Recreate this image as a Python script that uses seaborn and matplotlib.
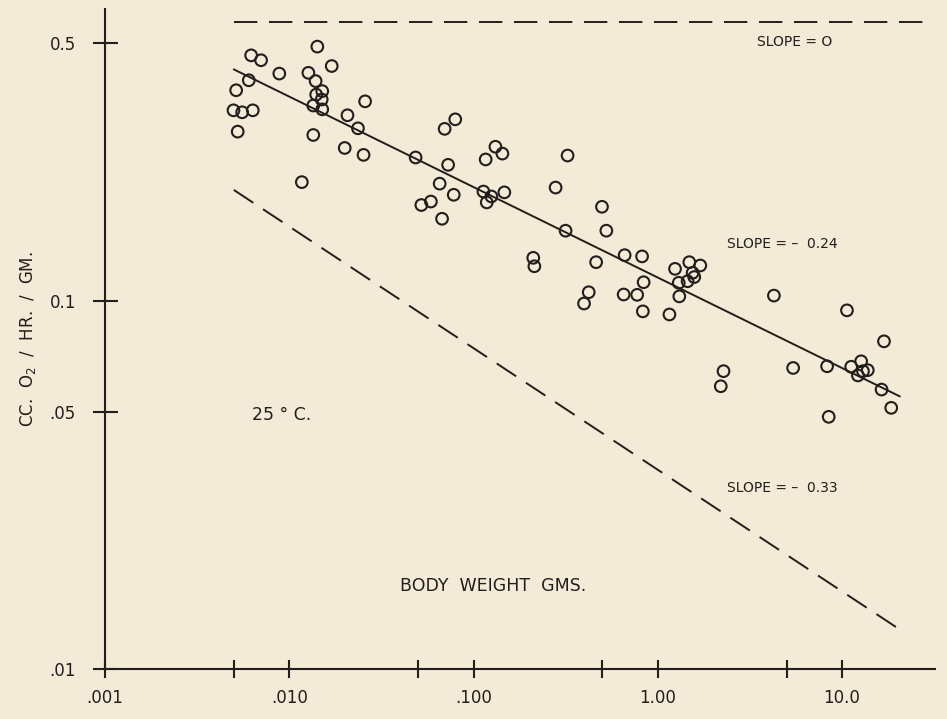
import matplotlib
matplotlib.use("Agg")
import matplotlib.pyplot as plt
import seaborn as sns
import pandas as pd

# body weight (gms) and O2 uptake (cc / hr / gm)
weight = [0.0142, 0.00621, 0.00703, 0.00883, 0.00603, 0.0127, 0.0139, 0.0170,
          0.00515, 0.0151, 0.0140, 0.0150, 0.0135, 0.0151, 0.00498, 0.00555,
          0.00634, 0.0258, 0.0207, 0.0236, 0.00525, 0.0135, 0.0200, 0.0253,
          0.0117, 0.0796, 0.0697, 0.0485, 0.0728, 0.0655, 0.0781, 0.0521,
          0.0587, 0.0675, 0.1315, 0.1435, 0.1164, 0.1132, 0.125, 0.118,
          0.147, 0.324, 0.279, 0.316, 0.498, 0.526, 0.211, 0.214,
          0.463, 0.422, 0.398, 0.661, 0.653, 0.822, 0.838, 0.773,
          0.830, 1.157, 1.241, 1.483, 1.702, 1.546, 1.578, 1.452,
          1.30, 1.309, 2.275, 2.198, 4.27, 5.43, 10.64, 16.9,
          8.30, 11.22, 12.7, 13.8, 13.0, 12.2, 16.4, 18.5, 8.47]
rate = [0.490, 0.464, 0.450, 0.414, 0.397, 0.416, 0.395, 0.434,
        0.373, 0.371, 0.363, 0.352, 0.339, 0.331, 0.329, 0.325,
        0.329, 0.348, 0.319, 0.294, 0.288, 0.282, 0.260, 0.249,
        0.210, 0.311, 0.293, 0.245, 0.234, 0.208, 0.194, 0.182,
        0.186, 0.167, 0.262, 0.251, 0.242, 0.198, 0.192, 0.185,
        0.197, 0.248, 0.203, 0.155, 0.180, 0.155, 0.1308, 0.1241,
        0.1273, 0.1055, 0.0983, 0.133, 0.104, 0.132, 0.1123, 0.1038,
        0.0936, 0.0918, 0.1221, 0.1273, 0.1247, 0.1191, 0.116, 0.113,
        0.1119, 0.1028, 0.0644, 0.0586, 0.1033, 0.0657, 0.0942, 0.0776,
        0.0664, 0.0662, 0.0685, 0.0648, 0.0644, 0.0627, 0.0574, 0.0512, 0.0484]

# reference lines
fit_x = [0.005, 20.6]
fit_y = [0.425, 0.055]
flat_x = [0.005, 30.0]
flat_y = [0.572, 0.572]
steep_x = [0.005, 20.6]
steep_y = [0.200, 0.0128]

xticks = [0.001, 0.005, 0.01, 0.05, 0.1, 0.5, 1, 5, 10]
xticklabels = ['.001', '', '.010', '', '.100', '', '1.00', '', '10.0']
yticks = [0.01, 0.05, 0.1, 0.5]
yticklabels = ['.01', '.05', '0.1', '0.5']

ink = '#221e1b'
paper = '#f3ead7'

sns.set_style("ticks")
plt.rcParams['font.family'] = ['DejaVu Sans']

fig = plt.figure(figsize=(9.47, 7.19), dpi=100, facecolor=paper)
ax = fig.add_axes([0.1109, 0.0695, 0.8765, 0.918])
ax.set_facecolor(paper)

df = pd.DataFrame({'weight': weight, 'rate': rate})
sns.scatterplot(data=df, x='weight', y='rate', ax=ax, marker='o', s=70,
                facecolors='none', edgecolor=ink, linewidth=1.5, zorder=3)

sns.lineplot(x=fit_x, y=fit_y, ax=ax, color=ink, linewidth=1.4)
sns.lineplot(x=flat_x, y=flat_y, ax=ax, color=ink, linewidth=1.4,
             linestyle=(0, (12, 6)))
sns.lineplot(x=steep_x, y=steep_y, ax=ax, color=ink, linewidth=1.4,
             linestyle=(0, (12, 6)))

ax.set_xscale('log')
ax.set_yscale('log')
ax.set_xlim(0.001, 32)
ax.set_ylim(0.01, 0.62)
ax.minorticks_off()
ax.set_xticks(xticks)
ax.set_xticklabels(xticklabels)
ax.set_yticks(yticks)
ax.set_yticklabels(yticklabels)

sns.despine(ax=ax)
for side in ['left', 'bottom']:
    ax.spines[side].set_color(ink)
    ax.spines[side].set_linewidth(1.5)
ax.tick_params(axis='y', direction='inout', length=18, width=1.5, color=ink,
               labelcolor=ink, labelsize=12, pad=12)
ax.tick_params(axis='x', direction='inout', length=13, width=1.5, color=ink,
               labelcolor=ink, labelsize=12, pad=8)

ax.set_xlabel('')
ax.set_ylabel('CC.  O$_2$  /  HR.  /  GM.', fontsize=12, color=ink, labelpad=8)

ax.text(5.5, 0.503, 'SLOPE = O', fontsize=10, color=ink, ha='center', va='center')
ax.text(4.74, 0.143, 'SLOPE = \u2013  0.24', fontsize=10, color=ink, ha='center', va='center')
ax.text(4.74, 0.0311, 'SLOPE = \u2013  0.33', fontsize=10, color=ink, ha='center', va='center')
ax.text(0.00624, 0.0491, '25 \u00b0 C.', fontsize=12.5, color=ink, ha='left', va='center')
ax.text(0.128, 0.0168, 'BODY  WEIGHT  GMS.', fontsize=12.5, color=ink, ha='center', va='center')

fig.savefig('out.png', dpi=100, facecolor=paper)
